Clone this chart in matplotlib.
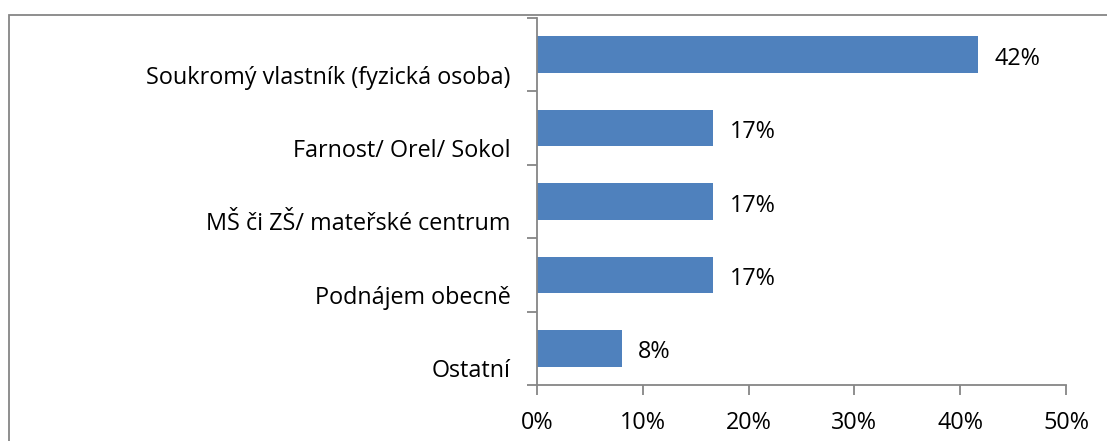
import matplotlib.pyplot as plt
import matplotlib.transforms as mtransforms
from matplotlib.patches import Rectangle
from matplotlib.ticker import FixedLocator, PercentFormatter

plt.rcParams["font.family"] = ["Open Sans", "DejaVu Sans"]

categories = ["Soukromý vlastník (fyzická osoba)", "Farnost/ Orel/ Sokol",
              "MŠ či ZŠ/ mateřské centrum", "Podnájem obecně", "Ostatní"]
values = [41.67, 16.67, 16.67, 16.67, 8.0]
value_labels = ["42%", "17%", "17%", "17%", "8%"]
x_ticks = [0, 10, 20, 30, 40, 50]

BLUE = "#4F81BD"; GREY = "#868686"; FS = 16.8

fig = plt.figure(figsize=(11.07, 4.41), dpi=100)
ax = fig.add_axes([537/1107, 1-385/441, (1066-537)/1107, (385-18)/441])

n = len(categories)
ypos = [n-1-i for i in range(n)]
ax.barh(ypos, values, height=0.5, color=BLUE, zorder=2)
ax.set_xlim(0, 50); ax.set_ylim(-0.5, n-0.5)

ax.xaxis.set_major_locator(FixedLocator(x_ticks))
ax.xaxis.set_major_formatter(PercentFormatter(decimals=0))
ax.set_yticks([i-0.5 for i in range(n+1)])
ax.set_yticklabels([])
ax.set_yticks(ypos, minor=True)
ax.set_yticklabels(categories, minor=True)
ax.tick_params(axis="y", which="minor", length=0, pad=19, labelsize=FS)
ax.tick_params(axis="y", which="major", length=7, color=GREY, width=1.3)
ax.tick_params(axis="x", length=7, color=GREY, width=1.3, labelsize=FS, pad=12)
off = mtransforms.ScaledTranslation(0, -0.2, fig.dpi_scale_trans)
for lab in ax.get_yticklabels(minor=True):
    lab.set_transform(lab.get_transform() + off)

for s in ["top", "right"]: ax.spines[s].set_visible(False)
for s in ["left", "bottom"]:
    ax.spines[s].set_color(GREY); ax.spines[s].set_linewidth(1.3)

for y, v, t in zip(ypos, values, value_labels):
    ax.annotate(t, (v, y), xytext=(12, -3), textcoords="offset points",
                va="center", ha="left", fontsize=FS)

fig.patches.append(Rectangle((9/1107, -0.1), 1.2, 1-15/441+0.1, transform=fig.transFigure,
                             fill=False, edgecolor=GREY, linewidth=1.3))

fig.savefig("out.png", dpi=100)
